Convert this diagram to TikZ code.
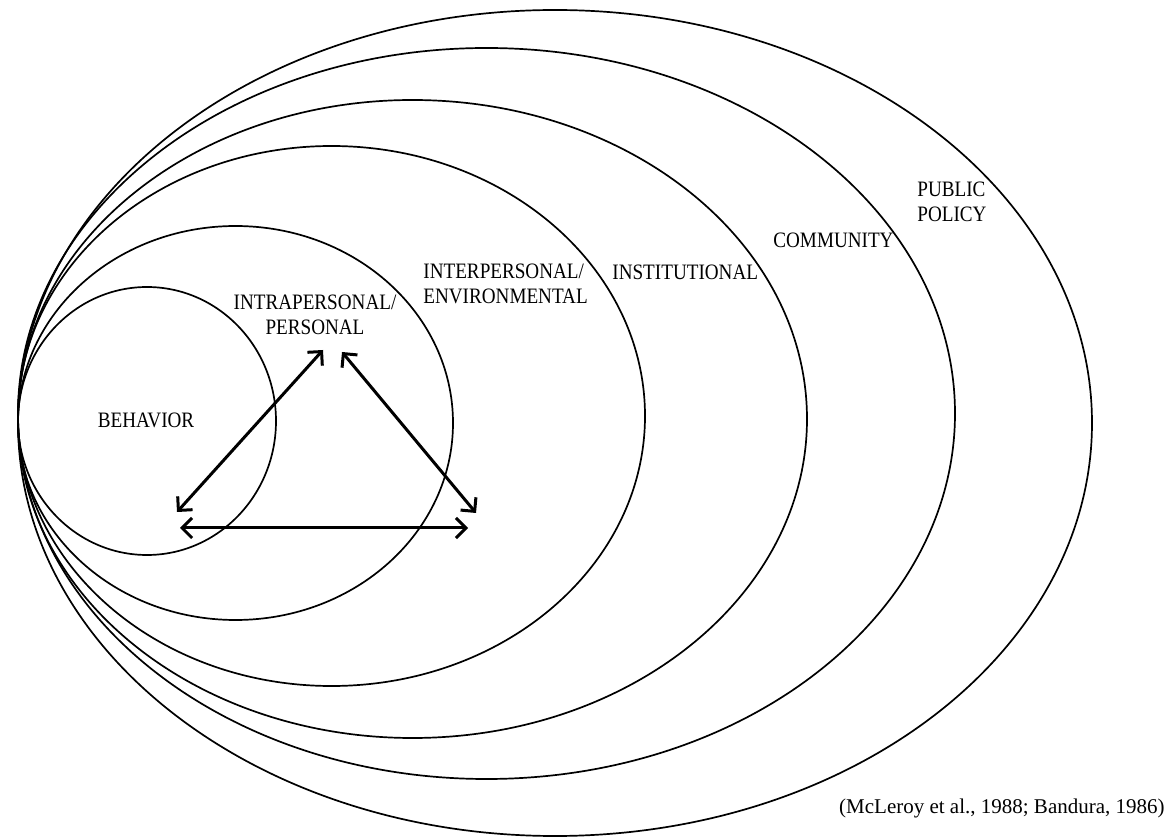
\documentclass[tikz,border=0pt]{standalone}
\usepackage{fontspec}
\setmainfont{Liberation Serif}
\newfontfamily\levelfont[FakeStretch=0.87]{Liberation Serif}
\usetikzlibrary{arrows.meta}

\begin{document}
\begin{tikzpicture}[x=0.5pt, y=-0.5pt,
					level/.style={draw, line width=0.85pt},
					lbl/.style={font=\levelfont\fontsize{11}{12.4}\selectfont, inner sep=0pt},
					link/.style={<->, line width=1.5pt},
					>={Straight Barb[length=5pt, width=10pt]}]
	\useasboundingbox (0,0) rectangle (1174,839);

	% the nested levels
	\draw[level] (147,421) ellipse [x radius=129, y radius=134];
	\draw[level] (235.5,423) ellipse [x radius=217.5, y radius=197];
	\draw[level] (331.5,416) ellipse [x radius=313.5, y radius=270];
	\draw[level] (412.5,419) ellipse [x radius=394.5, y radius=319];
	\draw[level] (486.5,413.5) ellipse [x radius=468.5, y radius=365.5];
	\draw[level] (555,423) ellipse [x radius=537, y radius=413];

	\node[lbl] (behavior) at (146,420) {BEHAVIOR};
	\node[lbl, align=center] (intra) at (315,315) {INTRAPERSONAL/\\PERSONAL};
	\node[lbl, align=left, anchor=west] (inter) at (423,284) {INTERPERSONAL/\\ENVIRONMENTAL};
	\node[lbl, anchor=west] (inst) at (612,272) {INSTITUTIONAL};
	\node[lbl, anchor=west] (comm) at (773,240) {COMMUNITY};
	\node[lbl, align=left, anchor=west] (policy) at (917,202) {PUBLIC\\POLICY};

	% triangle of arrows
	\coordinate (b1) at (177,512);
	\coordinate (p1) at (323,350);
	\coordinate (p2) at (342,352);
	\coordinate (e1) at (476,513);
	\coordinate (b2) at (180,528);
	\coordinate (e2) at (468,528);
	\draw[link] (b1) -- (p1);
	\draw[link] (p2) -- (e1);
	\draw[link] (b2) -- (e2);

	\node[font=\fontsize{10.5}{12}\selectfont, inner sep=0pt, anchor=east] (cite) at (1165,808) {(McLeroy et al., 1988; Bandura, 1986)};
\end{tikzpicture}
\end{document}
